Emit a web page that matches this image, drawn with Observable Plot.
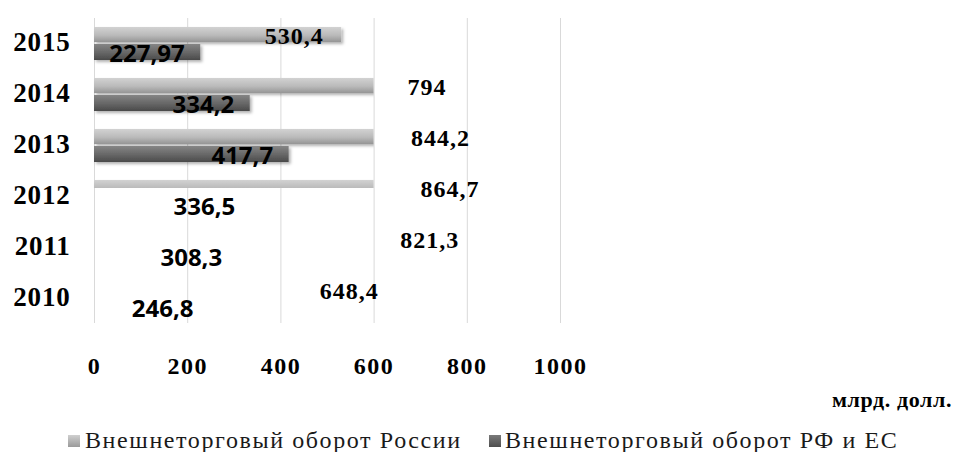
<!DOCTYPE html>
<html>
<head>
<meta charset="utf-8">
<script src="https://cdn.jsdelivr.net/npm/d3@7"></script>
<script src="https://cdn.jsdelivr.net/npm/@observablehq/plot@0.6"></script>
<style>
  body { margin: 0; background: #fff; }
  #wrap { position: relative; width: 954px; height: 452px; background: #fff; overflow: hidden; }
  #unit { position: absolute; right: 2px; top: 387px; font-family: "Liberation Serif", "Times New Roman", serif; font-weight: bold; font-size: 22px; letter-spacing: 0.6px; color: #000; white-space: nowrap; }
  .leg { position: absolute; top: 426px; font-family: "Liberation Serif", "Times New Roman", serif; font-size: 24px; color: #1a1a1a; white-space: nowrap; line-height: 28px; letter-spacing: 1.6px; }
  .sw { position: absolute; width: 12px; height: 12px; top: 435px; }
</style>
</head>
<body>
<div id="wrap">
  <div id="chart"></div>
  <div id="unit"></div>
  <div id="legend"></div>
</div>
<script>
const years = ["2015", "2014", "2013", "2012", "2011", "2010"];
const russiaTrade = [530.4, 794, 844.2, 864.7, 821.3, 648.4];
const rfEuTrade = [227.97, 334.2, 417.7, 336.5, 308.3, 246.8];
const xTicks = [0, 200, 400, 600, 800, 1000];
const seriesNames = ["Внешнеторговый оборот России", "Внешнеторговый оборот РФ и ЕС"];
const unitLabel = "млрд. долл.";

const fmt = v => String(v).replace(".", ",");
const rows = years.map((y, i) => ({year: y, russia: russiaTrade[i], rfeu: rfEuTrade[i]}));

const serif = "'Liberation Serif', 'Times New Roman', serif";
const sans = "'Open Sans', 'Liberation Sans', sans-serif";

const chart = Plot.plot({
  width: 954,
  height: 385,
  marginLeft: 94,
  marginRight: 394,
  marginTop: 18,
  marginBottom: 62,
  style: {background: "#fff", color: "#000", overflow: "visible"},
  x: {domain: [0, 1000]},
  y: {domain: years, paddingInner: 0.36, paddingOuter: 0.13},
  marks: [
    Plot.gridX(xTicks, {stroke: "#d9d9d9", strokeOpacity: 1, strokeWidth: 1}),
    Plot.barX(rows, {x: "russia", y: "year", fill: "url(#gLight)", insetBottom: 18, ariaDescription: "lightBars"}),
    Plot.barX(rows, {x: "rfeu", y: "year", fill: "url(#gDark)", insetTop: 17, ariaDescription: "darkBars"}),
    Plot.text(rows, {x: "russia", y: "year", text: d => fmt(d.russia), textAnchor: "end", dx: -18, dy: -8,
      fontFamily: serif, fontWeight: "bold", fontSize: 24, fill: "#000", ariaDescription: "lightLabels"}),
    Plot.text(rows, {x: "rfeu", y: "year", text: d => fmt(d.rfeu), textAnchor: "end", dx: -16, dy: 10.5,
      fontFamily: sans, fontWeight: "bold", fontSize: 24, fill: "#000", ariaDescription: "darkLabels"}),
    Plot.axisX(xTicks, {tickSize: 0, tickPadding: 33, tickFormat: d => String(d), label: null,
      fontFamily: serif, fontWeight: "bold", fontSize: 24, ariaDescription: "xAxis"}),
    Plot.axisY({tickSize: 0, tickPadding: 24, label: null, dy: -2,
      fontFamily: serif, fontWeight: "bold", fontSize: 27, ariaDescription: "yAxis"})
  ]
});

document.getElementById("chart").appendChild(chart);

// gradients, shadow and clipping of the bar area
const svg = d3.select(chart);
const defs = svg.insert("defs", ":first-child");
const gl = defs.append("linearGradient").attr("id", "gLight").attr("x1", 0).attr("y1", 0).attr("x2", 0).attr("y2", 1);
gl.append("stop").attr("offset", "0%").attr("stop-color", "#d2d2d2");
gl.append("stop").attr("offset", "55%").attr("stop-color", "#bababa");
gl.append("stop").attr("offset", "100%").attr("stop-color", "#959595");
const gd = defs.append("linearGradient").attr("id", "gDark").attr("x1", 0).attr("y1", 0).attr("x2", 0).attr("y2", 1);
gd.append("stop").attr("offset", "0%").attr("stop-color", "#858585");
gd.append("stop").attr("offset", "50%").attr("stop-color", "#696969");
gd.append("stop").attr("offset", "100%").attr("stop-color", "#4a4a4a");
const f = defs.append("filter").attr("id", "shadow").attr("x", "-5%").attr("y", "-30%").attr("width", "115%").attr("height", "180%");
f.append("feDropShadow").attr("dx", 2).attr("dy", 2).attr("stdDeviation", 1.5).attr("flood-color", "#000").attr("flood-opacity", 0.3);

const xs = chart.scale("x"), ys = chart.scale("y");
const clipRight = xs.apply(600);
const clipBottom = ys.apply("2012") + 8;
defs.append("clipPath").attr("id", "barClip").append("rect")
  .attr("x", 0).attr("y", 0).attr("width", clipRight).attr("height", clipBottom);

svg.selectAll('g[aria-description="lightBars"], g[aria-description="darkBars"]').each(function() {
  const g = d3.select(this);
  const outer = d3.select(this.parentNode).insert("g", () => this).attr("clip-path", "url(#barClip)");
  outer.node().appendChild(this);
  g.attr("filter", "url(#shadow)");
});

svg.selectAll('g[aria-description="lightLabels"] text').style("letter-spacing", "1px");
svg.selectAll('g[aria-description="xAxis"] text').style("letter-spacing", "1.5px");
svg.selectAll('g[aria-description="yAxis"] text').style("letter-spacing", "0.8px");

// unit label and legend
document.getElementById("unit").textContent = unitLabel;
const legend = document.getElementById("legend");
const swatches = [{x: 68, c: "linear-gradient(#cfcfcf, #9a9a9a)"}, {x: 489, c: "linear-gradient(#7a7a7a, #4e4e4e)"}];
const textX = [85, 505];
seriesNames.forEach((name, i) => {
  const sw = document.createElement("div");
  sw.className = "sw";
  sw.style.left = swatches[i].x + "px";
  sw.style.background = swatches[i].c;
  legend.appendChild(sw);
  const t = document.createElement("div");
  t.className = "leg";
  t.style.left = textX[i] + "px";
  t.textContent = name;
  legend.appendChild(t);
});
</script>
</body>
</html>
